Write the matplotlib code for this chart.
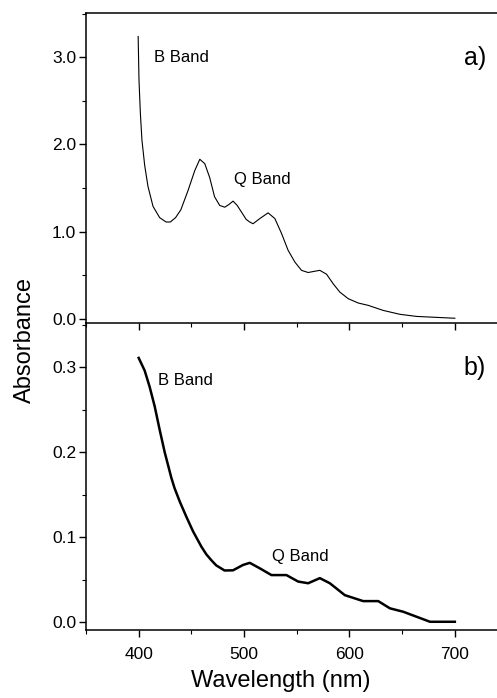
import matplotlib
matplotlib.use('Agg')
import matplotlib.pyplot as plt
from matplotlib.ticker import MultipleLocator, FormatStrFormatter

plt.rcParams['font.family'] = ['Liberation Sans', 'DejaVu Sans']

# a) spectrum
wl_a = [399.5, 400.3, 401.6, 403.1, 405.7, 408.8, 413.6, 419.9, 426, 430, 435,
        440, 446.8, 453.2, 458, 462.7, 467.4, 472, 476.9, 481.7, 485.5, 489.6,
        493.5, 497.5, 502, 505.4, 508.5, 515, 522.8, 529.2, 535.5, 541.8, 548.2,
        554.5, 560.8, 567.2, 571.9, 578.3, 584.6, 590.9, 598.8, 608.3, 617.8,
        632, 647.9, 663.7, 682.7, 700]
abs_a = [3.24, 2.74, 2.36, 2.05, 1.76, 1.52, 1.29, 1.16, 1.11, 1.11, 1.16,
         1.25, 1.47, 1.70, 1.83, 1.78, 1.62, 1.40, 1.30, 1.28, 1.31, 1.35,
         1.30, 1.225, 1.14, 1.11, 1.09, 1.15, 1.215, 1.15, 0.98, 0.785, 0.65,
         0.555, 0.53, 0.545, 0.555, 0.51, 0.40, 0.305, 0.23, 0.18, 0.153,
         0.095, 0.05, 0.026, 0.015, 0.005]

# b) spectrum
wl_b = [400, 405.7, 410.4, 415.2, 420, 424.7, 431, 434, 439, 445.3, 451.6,
        459.5, 464.2, 469, 473.6, 481.5, 489.5, 499, 505.4, 515, 526, 540.2,
        551.3, 560.8, 571.9, 581.4, 595.6, 613, 627.3, 638.4, 651, 663.7,
        676.4, 700]
abs_b = [0.311, 0.296, 0.277, 0.254, 0.226, 0.2, 0.170, 0.158, 0.142, 0.124,
         0.107, 0.089, 0.08, 0.073, 0.067, 0.061, 0.0612, 0.0675, 0.070, 0.0635,
         0.0556, 0.0556, 0.048, 0.046, 0.052, 0.046, 0.032, 0.025, 0.025,
         0.0165, 0.0125, 0.0066, 0.0007, 0.0007]

fig = plt.figure(figsize=(4.97, 6.98), dpi=100)
ax2 = fig.add_axes([0.173, 0.0974, 0.827, 0.4398])
ax1 = fig.add_axes([0.173, 0.5372, 0.827, 0.4442])
ax1.patch.set_visible(False)
ax2.patch.set_visible(False)

ax1.plot(wl_a, abs_a, color='black', lw=0.8)
ax2.plot(wl_b, abs_b, color='black', lw=1.8)

for ax in (ax1, ax2):
    ax.set_xlim(350, 740)
    ax.spines['right'].set_visible(False)
    for s in ('left', 'top', 'bottom'):
        ax.spines[s].set_linewidth(1.1)
    ax.xaxis.set_major_locator(MultipleLocator(100))
    ax.xaxis.set_minor_locator(MultipleLocator(50))
    ax.tick_params(which='major', direction='out', length=5, width=1, labelsize=12.5, pad=2)
    ax.tick_params(which='minor', direction='out', length=3, width=0.8)
    ax.tick_params(axis='x', pad=7)

ax2.spines['top'].set_visible(False)

ax1.set_ylim(-0.05, 3.51)
ax1.yaxis.set_major_locator(MultipleLocator(1.0))
ax1.yaxis.set_minor_locator(MultipleLocator(0.5))
ax1.yaxis.set_major_formatter(FormatStrFormatter('%.1f'))
ax1.tick_params(axis='x', labelbottom=False)

ax2.set_ylim(-0.009, 0.352)
ax2.yaxis.set_major_locator(MultipleLocator(0.1))
ax2.yaxis.set_minor_locator(MultipleLocator(0.05))
ax2.yaxis.set_major_formatter(FormatStrFormatter('%.1f'))

ax1.text(414.5, 3.0, 'B Band', fontsize=12, va='center')
ax1.text(490, 1.6, 'Q Band', fontsize=12, va='center')
ax1.text(719, 2.99, 'a)', fontsize=18, ha='center', va='center')

ax2.text(418.5, 0.284, 'B Band', fontsize=12, va='center')
ax2.text(526.5, 0.078, 'Q Band', fontsize=12, va='center')
ax2.text(719, 0.299, 'b)', fontsize=18, ha='center', va='center')

fig.text(0.05, 0.513, 'Absorbance', rotation=90, fontsize=17, ha='center', va='center')
fig.text(0.565, 0.016, 'Wavelength (nm)', fontsize=17, ha='center', va='baseline')

fig.savefig('out.png', dpi=100)
